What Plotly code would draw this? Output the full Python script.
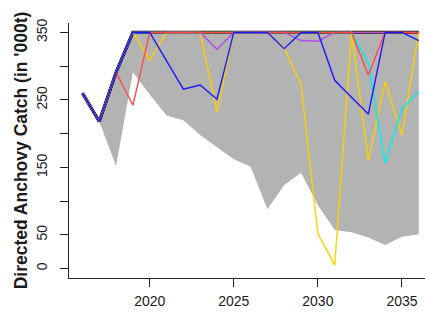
import plotly.graph_objects as go

years = list(range(2016, 2037))

# Envelope (grey band)
upper = [260, 218, 291, 350, 350, 350, 350, 350, 350, 350, 350,
         350, 350, 350, 350, 350, 350, 350, 350, 350, 350]
lower = [260, 218, 152, 291, 258, 227, 220, 198, 180, 162, 151,
         88, 124, 142, 94, 57, 54, 46, 35, 47, 51]

# Median / reference thick line
black = [260, 218, 291, 350, 350, 350, 350, 350, 350, 350, 350,
         350, 350, 350, 350, 350, 350, 350, 350, 350, 350]

# Individual trajectories
yellow1 = [260, 218, 291, 350, 309, 350, 350, 350, 232, 350, 350,
           350, 327, 272, 52, 5, 350, 350, 350, 350, 350]
yellow2 = [260, 218, 291, 350, 350, 350, 350, 350, 350, 350, 350,
           350, 350, 350, 350, 350, 350, 160, 277, 198, 350]
cyan = [260, 218, 291, 350, 350, 350, 350, 350, 350, 350, 350,
        350, 350, 350, 350, 350, 350, 305, 156, 237, 262]
purple = [260, 218, 291, 350, 350, 350, 350, 350, 325, 350, 350,
          350, 350, 338, 337, 350, 350, 350, 350, 350, 350]
red = [260, 218, 291, 242, 350, 350, 350, 350, 350, 350, 350,
       350, 350, 350, 350, 350, 350, 287, 350, 350, 350]
blue = [260, 218, 291, 350, 350, 308, 266, 272, 251, 350, 350,
        350, 326, 350, 350, 279, 254, 229, 350, 350, 338]

yticks = [0, 50, 100, 150, 200, 250, 300, 350]
yticktext = ["0", "50", "", "150", "", "250", "", "350"]
xticks = [2020, 2025, 2030, 2035]

fig = go.Figure()
fig.add_trace(go.Scatter(x=years, y=lower, mode="lines", line=dict(width=0),
                         showlegend=False, hoverinfo="skip"))
fig.add_trace(go.Scatter(x=years, y=upper, mode="lines", line=dict(width=0),
                         fill="tonexty", fillcolor="#b3b3b3",
                         showlegend=False, hoverinfo="skip"))
fig.add_trace(go.Scatter(x=years, y=black, mode="lines",
                         line=dict(color="black", width=3.2), showlegend=False))

series = [
    (yellow1, "#ffd000"),
    (yellow2, "#ffd000"),
    (cyan, "#00eeee"),
    (purple, "#b04ee6"),
    (red, "#ff4848"),
    (blue, "#1a1aff"),
]
for vals, col in series:
    fig.add_trace(go.Scatter(x=years, y=vals, mode="lines",
                             line=dict(color=col, width=1.4), showlegend=False))

font = dict(family="Liberation Sans, Arial, sans-serif", size=14, color="#1a1a1a")

fig.update_layout(
    width=425, height=323,
    margin=dict(l=69, r=0, t=23, b=45),
    paper_bgcolor="white", plot_bgcolor="white",
    font=font,
    showlegend=False,
    xaxis=dict(range=[2015.2, 2036.37], tickvals=xticks, ticks="outside",
               ticklen=8, tickwidth=1.3, tickcolor="#222",
               showline=True, linecolor="#222", linewidth=1.4,
               showgrid=False, zeroline=False, tickfont=font,
               automargin=False, ticklabelstandoff=2),
    yaxis=dict(range=[-14, 364], tickvals=yticks, ticktext=yticktext,
               ticks="outside", ticklen=8, tickwidth=1.3, tickcolor="#222",
               tickangle=-90, automargin=False, ticklabelstandoff=7,
               showline=True, linecolor="#222", linewidth=1.4,
               showgrid=False, zeroline=False, tickfont=font,
               title=dict(text="<b>Directed Anchovy Catch (in '000t)</b>",
                          font=dict(family="Liberation Sans, Arial, sans-serif",
                                    size=17.5, color="#1a1a1a"),
                          standoff=2)),
)

fig.write_html("out.html", config={"displayModeBar": False},
               post_script="document.body.style.margin='0px';document.body.style.overflow='hidden';")
